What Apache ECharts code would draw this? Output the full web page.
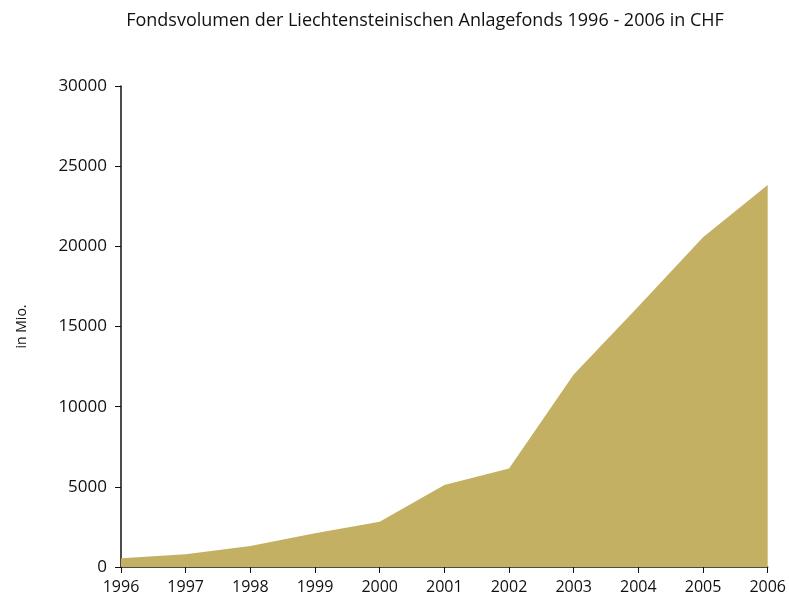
<!DOCTYPE html>
<html>
<head>
<meta charset="utf-8">
<script src="https://cdn.jsdelivr.net/npm/echarts@6/dist/echarts.min.js"></script>
<style>html,body{margin:0;padding:0;background:#fff}#c{width:789px;height:609px}</style>
</head>
<body>
<div id="c"></div>
<script>
const years = ['1996','1997','1998','1999','2000','2001','2002','2003','2004','2005','2006'];
const volume = [540, 790, 1310, 2100, 2830, 5120, 6150, 12000, 16240, 20570, 23830];
const yTicks = [0, 5000, 10000, 15000, 20000, 25000, 30000];
const titleText = 'Fondsvolumen der Liechtensteinischen Anlagefonds 1996 - 2006 in CHF';
const yName = 'in Mio.';

const chart = echarts.init(document.getElementById('c'));
const font = 'Open Sans';
chart.setOption({
  animation: false,
  backgroundColor: '#fff',
  title: {
    text: titleText, left: 420, textAlign: 'center', top: 7,
    textStyle: { fontFamily: font, fontSize: 18, fontWeight: 'normal', color: '#111' }
  },
  grid: { left: 121, right: 21, top: 86, bottom: 42 },
  xAxis: {
    type: 'category', data: years, boundaryGap: false,
    axisLine: { lineStyle: { color: '#111', width: 1.5 } },
    axisTick: { show: true, length: 6, lineStyle: { color: '#111' } },
    axisLabel: { margin: 12, fontFamily: font, fontSize: 16, color: '#111' },
    splitLine: { show: false }
  },
  yAxis: {
    type: 'value', min: yTicks[0], max: yTicks[yTicks.length - 1], interval: 5000,
    name: yName, nameLocation: 'middle', nameGap: 92, nameRotate: 90,
    nameTextStyle: { fontFamily: font, fontSize: 14, color: '#111' },
    axisLine: { show: true, lineStyle: { color: '#111', width: 1.5 } },
    axisTick: { show: true, length: 6, lineStyle: { color: '#111' } },
    axisLabel: { margin: 14, fontFamily: font, fontSize: 17, color: '#111',
      formatter: v => String(v) },
    splitLine: { show: false }
  },
  series: [{
    type: 'line', data: volume, smooth: false, symbol: 'none',
    lineStyle: { width: 0 },
    areaStyle: { color: '#c3b062', opacity: 1 },
    z: 1
  }]
});
</script>
</body>
</html>
